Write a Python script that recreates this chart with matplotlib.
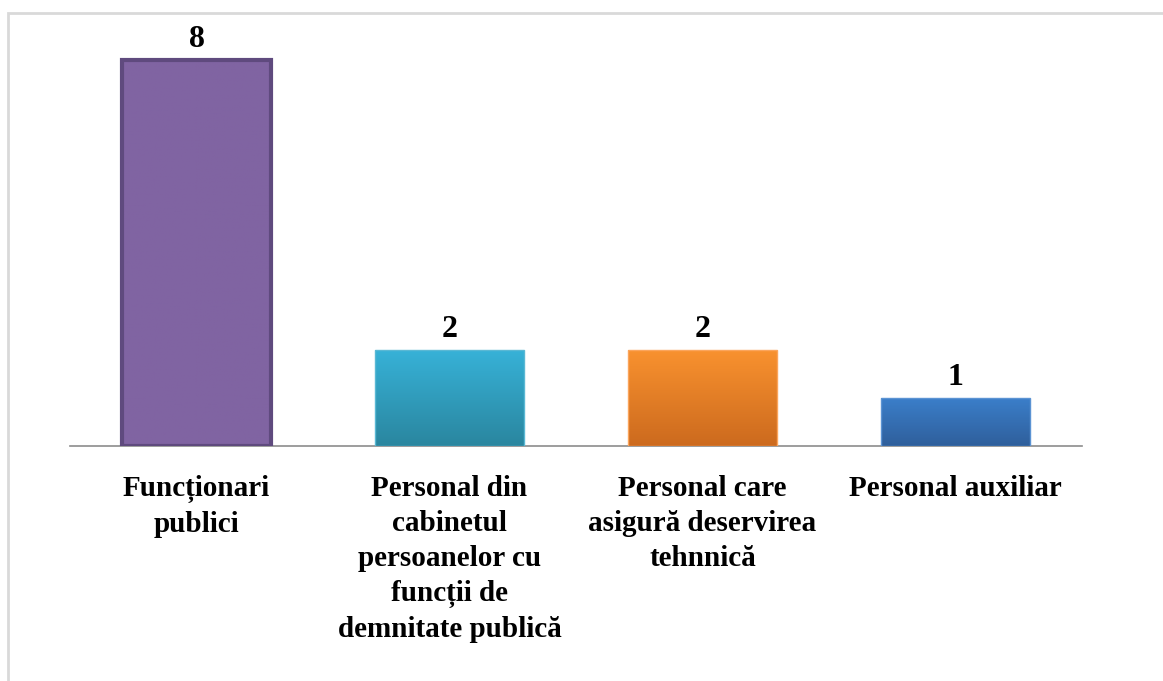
import numpy as np
import matplotlib.pyplot as plt
from matplotlib.colors import LinearSegmentedColormap

categories = ["Funcționari\npublici",
              "Personal din\ncabinetul\npersoanelor cu\nfuncții de\ndemnitate publică",
              "Personal care\nasigură deservirea\ntehnnică",
              "Personal auxiliar"]
values = [8, 2, 2, 1]

# top / bottom colour of each bar, plus edge colour
top_colors = ["#8064a2", "#37b2d8", "#f9922f", "#3b7fcb"]
bottom_colors = ["#8064a2", "#2a869f", "#cc6a1e", "#2f5f9b"]
edge_colors = ["#5f4a7e", "#5ab8d4", "#fba55c", "#5b93d3"]
edge_widths = [3.0, 1.0, 1.0, 1.0]

fig = plt.figure(figsize=(11.63, 6.81), dpi=100)
W, H = 1163, 681
ax = fig.add_axes([70 / W, 1 - 446 / H, 1012 / W, (446 - 36) / H])

x = np.arange(len(values))
bars = ax.bar(x, values, width=0.585, zorder=2)
for i, b in enumerate(bars):
    b.set_facecolor("none")
    b.set_edgecolor(edge_colors[i])
    b.set_linewidth(edge_widths[i])
    b.set_zorder(4)
    cmap = LinearSegmentedColormap.from_list("g%d" % i, [bottom_colors[i], top_colors[i]])
    grad = np.linspace(0, 1, 256).reshape(-1, 1)
    x0, w, h = b.get_x(), b.get_width(), b.get_height()
    im = ax.imshow(grad, cmap=cmap, origin="lower", aspect="auto",
                   extent=(x0, x0 + w, 0, h), zorder=3)
    im.set_clip_path(b)
    ax.text(x[i], values[i] + 0.12, str(values[i]), ha="center", va="bottom",
            fontsize=23, fontweight="bold", family="Liberation Serif")

ax.set_xlim(-0.5, len(values) - 0.5)
ax.set_ylim(0, 8.5)
for s in ["top", "right", "left"]:
    ax.spines[s].set_visible(False)
ax.spines["bottom"].set_color("#8c8c8c")
ax.spines["bottom"].set_linewidth(1.2)
ax.set_yticks([])
ax.set_xticks(x)
ax.set_xticklabels(categories, fontsize=21, fontweight="bold", family="Liberation Serif",
                   linespacing=1.38)
ax.tick_params(axis="x", length=0, pad=21)

# outer chart border
fig.patches.append(plt.Rectangle((8 / W, -0.01), 1.1, 1 - 13 / H + 0.01,
                                 transform=fig.transFigure, fill=False,
                                 edgecolor="#d9d9d9", linewidth=2))

fig.savefig("out.png", dpi=100)
